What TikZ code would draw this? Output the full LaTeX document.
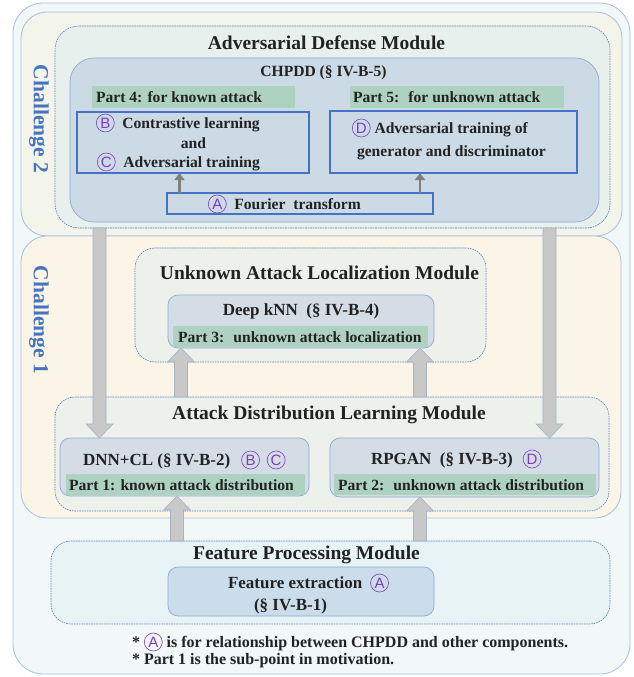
\documentclass[tikz,border=0pt]{standalone}
\usepackage{fontspec}
\setmainfont{Liberation Serif}
\newfontfamily\lsans{Liberation Sans}
\usetikzlibrary{calc,arrows.meta}

\definecolor{outerfill}{HTML}{F2F8F8}
\definecolor{outerline}{HTML}{A8BFDD}
\definecolor{chtwofill}{HTML}{F3F4EA}
\definecolor{chonefill}{HTML}{FBF5E7}
\definecolor{modfill}{HTML}{EDF1EB}
\definecolor{admfill}{HTML}{E8F0EE}
\definecolor{modline}{HTML}{5A7FC0}
\definecolor{chpddfill}{HTML}{CCDAE6}
\definecolor{innerline}{HTML}{8FAAD2}
\definecolor{subfill}{HTML}{D4DCE6}
\definecolor{bandfill}{HTML}{AED2C2}
\definecolor{bluebox}{HTML}{4472C4}
\definecolor{fpfill}{HTML}{E7F3F5}
\definecolor{fefill}{HTML}{CBDCEB}
\definecolor{arrowfill}{HTML}{C8C8C8}
\definecolor{arrowline}{HTML}{A7B4C4}
\definecolor{thinarrowc}{HTML}{7F7F7F}
\definecolor{purp}{HTML}{7E3DBF}
\definecolor{chal}{HTML}{4674C0}
\definecolor{ink}{HTML}{222222}

% circled marker letter
\newcommand\circled[1]{\tikz[baseline=(cl.base)]\node[circle,draw=purp,line width=0.6pt,inner sep=0pt,minimum size=18pt,text=purp,font=\lsans\mdseries\fontsize{15}{15}\selectfont](cl){#1};}

% rounded panel from (x1,y1) to (x2,y2)
\newcommand\panel[6]{\node[#1,anchor=north west,minimum width={#5-#3},minimum height={#6-#4}] (#2) at (#3,#4) {};}

% vertical block arrow from #1 to tip #2
\newcommand\blockarrow[2]{%
  \filldraw[bigarrow] let \p1=(#1), \p2=(#2), \n1={sign(\y2-\y1)*14} in
  (\x1-6.5pt,\y1) -- (\x1-6.5pt,\y2-\n1*1pt) -- (\x1-13.5pt,\y2-\n1*1pt) -- (\x1,\y2)
  -- (\x1+13.5pt,\y2-\n1*1pt) -- (\x1+6.5pt,\y2-\n1*1pt) -- (\x1+6.5pt,\y1) -- cycle;}

\begin{document}
\begin{tikzpicture}[x=1pt,y=-1pt,
  every node/.style={inner sep=0pt,outer sep=0pt},
  shell/.style={draw=outerline,line width=0.8pt,rounded corners=26pt},
  module/.style={draw=modline,line width=0.6pt,dash pattern=on 1.6pt off 0.9pt,rounded corners=20pt},
  inner/.style={draw=innerline,line width=0.7pt,rounded corners=10pt},
  band/.style={fill=bandfill},
  bluerect/.style={draw=bluebox,line width=1.8pt},
  bigarrow/.style={fill=arrowfill,draw=arrowline,line width=0.6pt},
  thinarrow/.style={draw=thinarrowc,line width=2.6pt,-{Triangle[length=7pt,width=10pt]}},
  title/.style={font=\bfseries\fontsize{19.5}{22}\selectfont,text=ink},
  subtitle/.style={font=\bfseries\fontsize{17}{20}\selectfont,text=ink},
  txt/.style={font=\bfseries\fontsize{15.6}{19}\selectfont,text=ink},
  note/.style={font=\bfseries\fontsize{16}{19}\selectfont,text=ink},
  chlabel/.style={font=\bfseries\fontsize{21.5}{24}\selectfont,text=chal,rotate=-90}]

\useasboundingbox (0,0) rectangle (633,677);

% outer frame and challenge areas
\panel{shell,fill=outerfill,rounded corners=30pt}{outer}{13}{3}{630}{674}
\panel{shell,fill=chtwofill}{chtwo}{21}{12}{622}{236}
\panel{shell,fill=chonefill}{chone}{21}{236}{621}{518}

% adversarial defense module
\panel{module,fill=admfill,rounded corners=24pt}{adm}{55}{26}{610}{228}
\panel{inner,fill=chpddfill,rounded corners=24pt}{chpdd}{70}{58}{599}{222}
\panel{band}{bandfour}{92}{86}{295}{108}
\panel{band}{bandfive}{350}{86}{564}{108}
\panel{bluerect}{bcbox}{77}{112}{309}{173}
\panel{bluerect}{dbox}{330}{111}{577}{173}
\panel{bluerect}{ftbox}{167}{193}{433}{214}

% unknown attack localization module
\panel{module,fill=modfill}{ual}{135}{248}{486}{362}
\panel{inner,fill=subfill}{knn}{168}{295}{434}{348}
\panel{band}{bandthree}{173}{326}{428}{347}

% attack distribution learning module
\panel{module,fill=modfill}{adl}{55}{397}{609}{511}
\panel{inner,fill=subfill}{dnn}{60}{438}{309}{496}
\panel{band}{bandone}{66}{474}{305}{495}
\panel{inner,fill=subfill}{rpgan}{330}{438}{599}{497}
\panel{band}{bandtwo}{334}{474}{596}{495}

% feature processing module
\panel{module,fill=fpfill}{fp}{51}{541}{610}{624}
\panel{inner,fill=fefill}{fe}{168}{567}{434}{616}

% arrow columns
\coordinate (cola) at (99.5,0);
\coordinate (colb) at (549.5,0);
\coordinate (colc) at (181,0);
\coordinate (cold) at (420,0);
\coordinate (cole) at (177,0);
\coordinate (colf) at (179.5,0);

% block arrows between modules
\blockarrow{adm.south -| cola}{dnn.north -| cola}
\blockarrow{adm.south -| colb}{rpgan.north -| colb}
\blockarrow{adl.north -| colc}{knn.south -| colc}
\blockarrow{adl.north -| cold}{knn.south -| cold}
\blockarrow{fp.north -| cole}{dnn.south -| cole}
\blockarrow{fp.north -| cold}{rpgan.south -| cold}

% arrows inside CHPDD
\draw[thinarrow] (ftbox.north -| colf) -- (bcbox.south -| colf);
\draw[thinarrow] (ftbox.north -| cold) -- (dbox.south -| cold);

% challenge labels
\node[chlabel] (chtwolbl) at (39,119) {Challenge 2};
\node[chlabel] (chonelbl) at (39,320) {Challenge 1};

% texts: defense module
\node[title] (admtitle) at (326.5,43) {Adversarial Defense Module};
\node[txt] (chpddtitle) at (323.5,73) {CHPDD (§ IV-B-5)};
\node[txt,anchor=west] (partfour) at (96,97) {Part 4: for known attack};
\node[txt,anchor=west] (partfive) at (353,97) {Part 5:~ for unknown attack};
\node[txt,anchor=west] (bcone) at (96,123) {\circled{B}\ \ Contrastive learning};
\node[txt] (bctwo) at (193.5,143) {and};
\node[txt,anchor=west] (bcthree) at (97,162) {\circled{C}\ \ Adversarial training};
\node[txt,anchor=west] (done) at (352,128) {\circled{D}\ Adversarial training of};
\node[txt,anchor=west] (dtwo) at (357,153) {generator and discriminator};
\node[txt,anchor=west] (fttxt) at (208,204) {\circled{A}\ \ Fourier~ transform};

% texts: localization module
\node[title] (ualtitle) at (319.5,273) {Unknown Attack Localization Module};
\node[subtitle] (knntxt) at (301,311) {Deep kNN~ (§ IV-B-4)};
\node[txt,anchor=west] (partthree) at (178,337) {Part 3:~ unknown attack localization};

% texts: distribution learning module
\node[title] (adltitle) at (329,415) {Attack Distribution Learning Module};
\node[subtitle,anchor=west] (dnntxt) at (83,460) {DNN+CL (§ IV-B-2)\hspace{11pt}\circled{B}\hspace{7pt}\circled{C}};
\node[txt,anchor=west] (partone) at (69,485) {Part 1: known attack distribution};
\node[subtitle,anchor=west] (rpgantxt) at (371,459) {RPGAN~ (§ IV-B-3)\hspace{10pt}\circled{D}};
\node[txt,anchor=west] (parttwo) at (338,485) {Part 2:~ unknown attack distribution};

% texts: feature processing module
\node[title] (fptitle) at (306.5,555) {Feature Processing Module};
\node[subtitle,anchor=west] (fetxt) at (228,583) {Feature extraction\hspace{8pt}\circled{A}};
\node[subtitle] (fesec) at (290.5,606) {(§ IV-B-1)};

% notes
\node[note,anchor=west] (noteone) at (132,642) {* \circled{A} is for relationship between CHPDD and other components.};
\node[note,anchor=west] (notetwo) at (132,661) {* Part 1 is the sub-point in motivation.};
\end{tikzpicture}
\end{document}
